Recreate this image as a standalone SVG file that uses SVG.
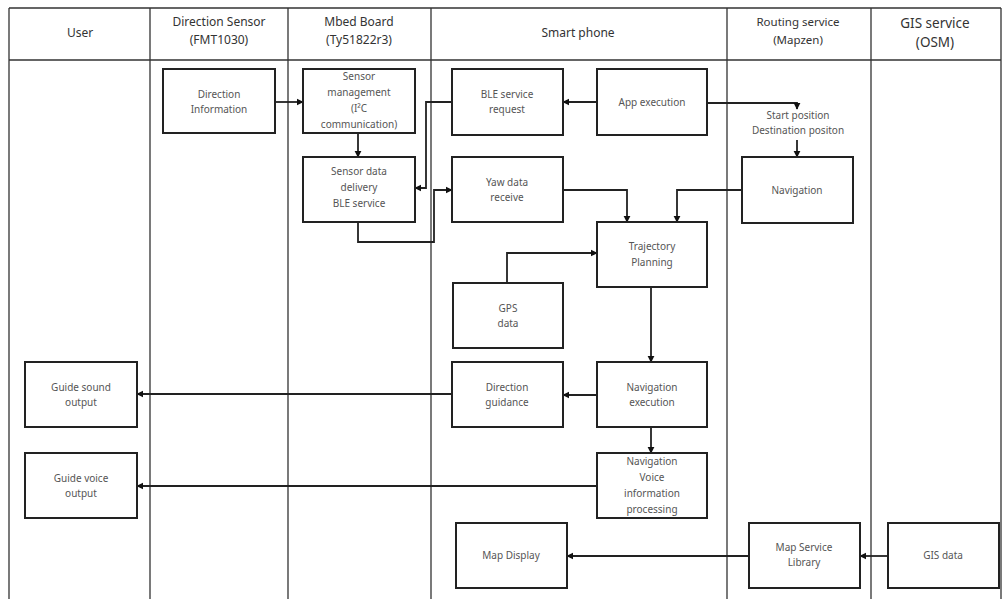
<svg xmlns="http://www.w3.org/2000/svg" width="1003" height="599" viewBox="0 0 1003 599">
<style>
.lane{stroke:#333;stroke-width:1.3;fill:none}
.box{fill:#fff;stroke:#222;stroke-width:2}
.t{font-family:"Noto Sans","Open Sans",sans-serif;font-size:10px;fill:#555;text-anchor:middle}
.h{font-family:"Noto Sans","Open Sans",sans-serif;font-size:12px;fill:#333;text-anchor:middle}
.c{stroke:#222;stroke-width:1.8;fill:none;marker-end:url(#ah)}
</style>
<defs>
<marker id="ah" viewBox="0 0 10 10" refX="9" refY="5" markerWidth="4" markerHeight="4" orient="auto" markerUnits="strokeWidth">
<path d="M0,0 L10,5 L0,10 z" fill="#111"/>
</marker>
</defs>
<rect width="1003" height="599" fill="#fff"/>
<g id="lanes">
<path class="lane" d="M9,8 H1001 M9,60 H1001 M9,8 V599 M150,8 V599 M288,8 V599 M431,8 V599 M727,8 V599 M871,8 V599 M1001,8 V599"/>
<text class="h" x="80" y="37">User</text>
<text class="h" x="219" y="26">Direction Sensor</text>
<text class="h" x="219" y="44">(FMT1030)</text>
<text class="h" x="359" y="26">Mbed Board</text>
<text class="h" x="359" y="44">(Ty51822r3)</text>
<text class="h" x="578" y="37">Smart phone</text>
<text class="h" x="798" y="26" style="font-size:11.5px">Routing service</text>
<text class="h" x="798" y="44" style="font-size:11.5px">(Mapzen)</text>
<text class="h" x="935" y="28" style="font-size:13.5px">GIS service</text>
<text class="h" x="935" y="47" style="font-size:13.5px">(OSM)</text>
</g>
<g id="connectors">
<path class="c" d="M274,102 H303"/>
<path class="c" d="M358,133 V157"/>
<path class="c" d="M452,102 H426 V188 H415"/>
<path class="c" d="M358,222 V242 H434 V190 H452"/>
<path class="c" d="M597,102 H563"/>
<path class="c" d="M707,103 H797 V109"/>
<path class="c" d="M797,140 V157"/>
<path class="c" d="M563,190 H627 V222"/>
<path class="c" d="M742,190 H677 V222"/>
<path class="c" d="M507,283 V253 H597"/>
<path class="c" d="M651,287 V362"/>
<path class="c" d="M597,395 H563"/>
<path class="c" d="M452,394 H137"/>
<path class="c" d="M651,427 V453"/>
<path class="c" d="M597,486 H137"/>
<path class="c" d="M748,556 H567"/>
<path class="c" d="M888,556 H860"/>
<text class="t" x="798" y="119">Start position</text>
<text class="t" x="798" y="134">Destination positon</text>
</g>
<g id="n-direction-info"><rect class="box" x="163" y="69" width="112" height="64"/><text class="t" x="219" y="98">Direction</text><text class="t" x="219" y="113">Information</text></g>
<g id="n-sensor-mgmt"><rect class="box" x="303" y="69" width="112" height="64"/><text class="t" x="359" y="80">Sensor</text><text class="t" x="359" y="96">management</text><text class="t" x="359" y="112">(I²C</text><text class="t" x="359" y="128">communication)</text></g>
<g id="n-sensor-delivery"><rect class="box" x="303" y="157" width="112" height="65"/><text class="t" x="359" y="175">Sensor data</text><text class="t" x="359" y="191">delivery</text><text class="t" x="359" y="207">BLE service</text></g>
<g id="n-ble-request"><rect class="box" x="452" y="69" width="111" height="66"/><text class="t" x="507" y="98">BLE service</text><text class="t" x="507" y="113">request</text></g>
<g id="n-app-exec"><rect class="box" x="597" y="69" width="110" height="66"/><text class="t" x="652" y="106">App execution</text></g>
<g id="n-yaw"><rect class="box" x="452" y="157" width="111" height="65"/><text class="t" x="507" y="186">Yaw data</text><text class="t" x="507" y="201">receive</text></g>
<g id="n-navigation"><rect class="box" x="742" y="157" width="111" height="66"/><text class="t" x="797" y="194">Navigation</text></g>
<g id="n-trajectory"><rect class="box" x="597" y="222" width="110" height="65"/><text class="t" x="652" y="250">Trajectory</text><text class="t" x="652" y="266">Planning</text></g>
<g id="n-gps"><rect class="box" x="453" y="283" width="110" height="65"/><text class="t" x="508" y="312">GPS</text><text class="t" x="508" y="327">data</text></g>
<g id="n-guide-sound"><rect class="box" x="25" y="362" width="112" height="65"/><text class="t" x="81" y="391">Guide sound</text><text class="t" x="81" y="406">output</text></g>
<g id="n-guide-voice"><rect class="box" x="25" y="453" width="112" height="65"/><text class="t" x="81" y="482">Guide voice</text><text class="t" x="81" y="497">output</text></g>
<g id="n-direction-guidance"><rect class="box" x="452" y="362" width="111" height="65"/><text class="t" x="507" y="391">Direction</text><text class="t" x="507" y="406">guidance</text></g>
<g id="n-nav-exec"><rect class="box" x="597" y="362" width="110" height="65"/><text class="t" x="652" y="391">Navigation</text><text class="t" x="652" y="406">execution</text></g>
<g id="n-nav-voice"><rect class="box" x="597" y="453" width="110" height="65"/><text class="t" x="652" y="465">Navigation</text><text class="t" x="652" y="481">Voice</text><text class="t" x="652" y="497">information</text><text class="t" x="652" y="513">processing</text></g>
<g id="n-map-display"><rect class="box" x="456" y="523" width="111" height="65"/><text class="t" x="511" y="559">Map Display</text></g>
<g id="n-map-lib"><rect class="box" x="749" y="523" width="111" height="65"/><text class="t" x="804" y="551">Map Service</text><text class="t" x="804" y="566">Library</text></g>
<g id="n-gis-data"><rect class="box" x="888" y="523" width="111" height="65"/><text class="t" x="943" y="559">GIS data</text></g>
</svg>
